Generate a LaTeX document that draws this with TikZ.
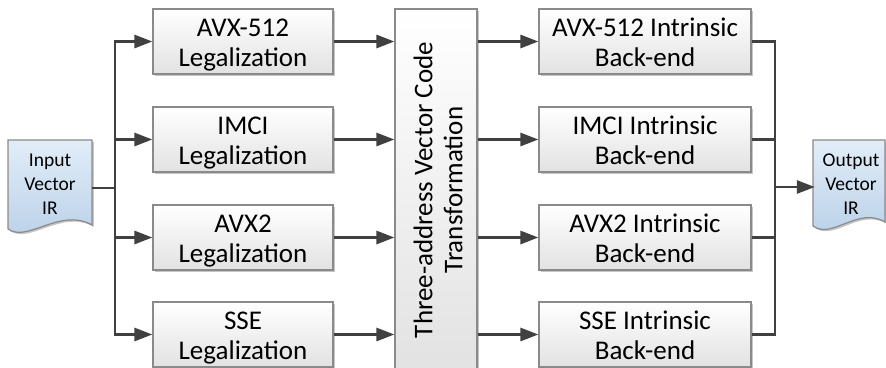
\documentclass[tikz,border=0pt]{standalone}
\usepackage{fontspec}
\setmainfont{Carlito}
\usetikzlibrary{arrows.meta,shadows,calc}
\definecolor{linecol}{HTML}{404040}
\definecolor{boxborder}{HTML}{8A8A8A}
\definecolor{boxbottom}{HTML}{E2E2E2}
\definecolor{doctop}{HTML}{E2EDF8}
\definecolor{docbottom}{HTML}{B9D0E8}
\newcommand{\stagelabel}[1]{\raisebox{-4pt}[\height][\depth]{\begin{tabular}{@{}c@{}}#1\end{tabular}}}
\tikzset{
  stagebox/.style={draw=boxborder, line width=1.2pt, top color=white, bottom color=boxbottom,
    drop shadow={shadow xshift=1.8pt, shadow yshift=-1.8pt, fill=gray, opacity=0.45},
    inner sep=0pt, align=center, font=\fontsize{27}{30}\selectfont},
  legbox/.style={stagebox, minimum width=180pt, minimum height=65pt},
  bebox/.style={stagebox, minimum width=212pt, minimum height=65pt},
  docshape/.style={draw=boxborder, line width=1.2pt, top color=doctop, bottom color=docbottom,
    drop shadow={shadow xshift=1.8pt, shadow yshift=-1.8pt, fill=gray, opacity=0.45}},
  doctext/.style={align=center, inner sep=0pt, font=\fontsize{19.5}{24}\selectfont},
  conn/.style={draw=linecol, line width=2.8pt},
  arr/.style={conn, -{Triangle[length=18pt,width=13pt]}},
}
\begin{document}
\begin{tikzpicture}[x=1pt,y=-1pt]
\useasboundingbox (0,0) rectangle (886,367);
% documents
\path[docshape] (8,140) -- (92,140) -- (92,225) .. controls (60,207) and (28,243) .. (8,229) -- cycle;
\node[doctext, minimum width=84pt] (in) at (50,184) {Input\\Vector\\IR};
\path[docshape] (813,140) -- (885,140) -- (885,222) .. controls (858,206) and (832,240) .. (813,226) -- cycle;
\node[doctext, minimum width=72pt] (out) at (851,184) {Output\\Vector\\IR};
% legalization boxes
\node[legbox] (l1) at (243,41.5) {\stagelabel{AVX-512\\Legalization}};
\node[legbox] (l2) at (243,139.5) {\stagelabel{IMCI\\Legalization}};
\node[legbox] (l3) at (243,237.5) {\stagelabel{AVX2\\Legalization}};
\node[legbox] (l4) at (243,334.5) {\stagelabel{SSE\\Legalization}};
% transformation
\node[stagebox, minimum width=82pt, minimum height=363pt] (tr) at (436,190.5) {};
\node[rotate=90, align=center, inner sep=0pt, font=\fontsize{27}{30}\selectfont] (trtext) at (438,190) {Three-address Vector Code\\Transformation};
% back-ends
\node[bebox] (b1) at (645,41.5) {\stagelabel{AVX-512 Intrinsic\\Back-end}};
\node[bebox] (b2) at (645,139.5) {\stagelabel{IMCI Intrinsic\\Back-end}};
\node[bebox] (b3) at (645,237.5) {\stagelabel{AVX2 Intrinsic\\Back-end}};
\node[bebox] (b4) at (645,334.5) {\stagelabel{SSE Intrinsic\\Back-end}};
% junctions
\coordinate (jl) at (115,188);
\coordinate (jr) at (775,187);
% connectors
\draw[conn] (in.east |- jl) -- (jl);
\foreach \n in {l1,l2,l3,l4} {\draw[arr] (jl) |- (\n.west);}
\foreach \n in {l1,l2,l3,l4} {\draw[arr] (\n.east) -- (\n.east -| tr.west);}
\foreach \n in {b1,b2,b3,b4} {\draw[arr] (\n.west -| tr.east) -- (\n.west);}
\foreach \n in {b1,b2,b3,b4} {\draw[conn] (\n.east) -| (jr);}
\draw[arr] (jr) -- (jr -| out.west);
\end{tikzpicture}
\end{document}
